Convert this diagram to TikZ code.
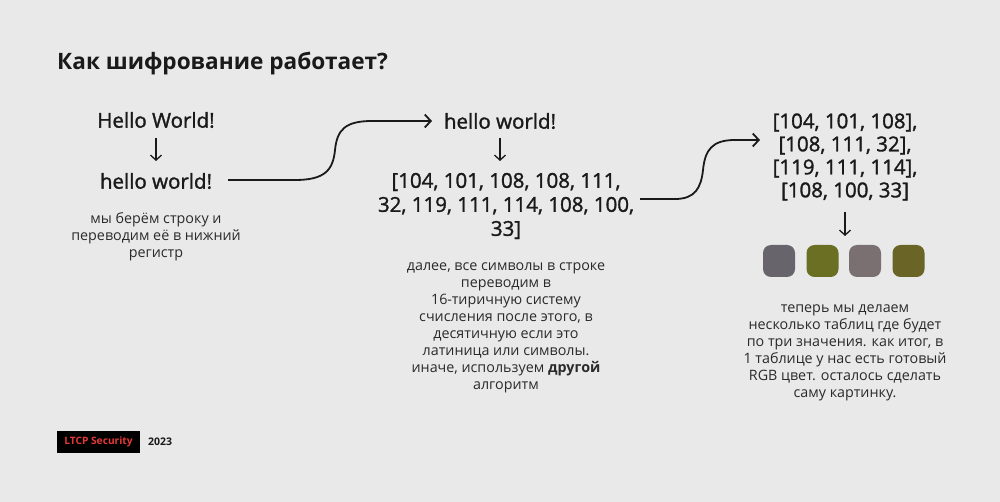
\documentclass[tikz,border=0pt]{standalone}
\usepackage{fontspec}
\setmainfont{Open Sans}
\newfontfamily\medfont{Open Sans}[FakeBold=1.5]
\usetikzlibrary{arrows.meta}
\definecolor{bg}{HTML}{E9E9E9}
\definecolor{ink}{HTML}{1A1A1A}
\definecolor{capink}{HTML}{2A2A2A}
\definecolor{sqA}{HTML}{67656B}
\definecolor{sqB}{HTML}{6B6F24}
\definecolor{sqC}{HTML}{7A7071}
\definecolor{sqD}{HTML}{6A6426}
\definecolor{ltcp}{HTML}{E53935}
\tikzset{
  big/.style={text=ink, font=\medfont\fontsize{20.5}{24}\selectfont, align=center, inner sep=0pt},
  captext/.style={text=capink, font=\fontsize{14.3}{17}\selectfont, align=center, inner sep=0pt},
  downarrow/.style={draw=ink, line width=1.3pt, -{Straight Barb[length=5pt,width=11pt,line width=1.3pt]}},
  flow/.style={draw=ink, line width=1.8pt, -{Straight Barb[length=6pt,width=13pt,line width=1.8pt]}},
  swatch/.style={minimum width=32pt, minimum height=32pt, rounded corners=8pt, inner sep=0pt},
}
\begin{document}
\begin{tikzpicture}[x=1pt,y=-1pt]
\fill[bg] (0,0) rectangle (1000,502);
\useasboundingbox (0,0) rectangle (1000,502);

\node[anchor=west, text=ink, font=\fontsize{22.6}{26}\selectfont\bfseries, inner sep=0pt] (title) at (57,64) {Как шифрование работает?};

% column 1
\node[big] (hw1) at (156,120) {Hello World!};
\node[big] (lw1) at (156,181) {hello world!};
\draw[downarrow] (156,138) coordinate (a1s) -- (156,161) coordinate (a1e);
\node[captext] (c1) at (156,237) {мы берём строку и\\переводим её в нижний\\регистр};

% column 2
\node[big] (lw2) at (500,121) {hello world!};
\draw[downarrow] (500,138) coordinate (a2s) -- (500,161) coordinate (a2e);
\node[big] (nums) at (506,206) {{[}104, 101, 108, 108, 111,\\32, 119, 111, 114, 108, 100,\\33{]}};
\node[captext] (c2) at (506,327.5) {далее, все символы в строке\\переводим в\\16-тиричную систему\\счисления после этого, в\\десятичную если это\\латиница или символы.\\иначе, используем \textbf{другой}\\алгоритм};

% column 3
\node[big, font=\medfont\fontsize{20.5}{23}\selectfont] (grp) at (845,157) {{[}104, 101, 108{]},\\{[}108, 111, 32{]},\\{[}119, 111, 114{]},\\{[}108, 100, 33{]}};
\draw[downarrow] (845,212) coordinate (a3s) -- (845,236) coordinate (a3e);
\node[swatch, fill=sqA] (s1) at (779,261) {};
\node[swatch, fill=sqB] (s2) at (822.5,261) {};
\node[swatch, fill=sqC] (s3) at (865,261) {};
\node[swatch, fill=sqD] (s4) at (908.5,261) {};
\node[captext] (c3) at (845,352.5) {теперь мы делаем\\несколько таблиц где будет\\по три значения. как итог, в\\1 таблице у нас есть готовый\\RGB цвет. осталось сделать\\саму картинку.};

% connectors
\coordinate (f1s) at (228,180);
\coordinate (f1e) at (432,121);
\draw[flow] (f1s) -- (295,180) .. controls (325,180) and (333,170) .. (335,150)
  .. controls (337,130) and (345,121) .. (372,121) -- (f1e);
\coordinate (f2s) at (640,199);
\coordinate (f2e) at (760,140);
\draw[flow] (f2s) -- (675,199) .. controls (695,199) and (701,188) .. (703,170)
  .. controls (705,150) and (712,140) .. (735,140) -- (f2e);

% footer
\node[fill=black, text=ltcp, font=\fontsize{10.2}{12}\selectfont\bfseries, minimum width=83pt, minimum height=22pt, inner sep=0pt] (brand) at (98.5,442) {LTCP Security};
\node[anchor=west, text=ink, font=\fontsize{10.5}{12}\selectfont\bfseries, inner sep=0pt] (year) at (148,442) {2023};
\end{tikzpicture}
\end{document}
